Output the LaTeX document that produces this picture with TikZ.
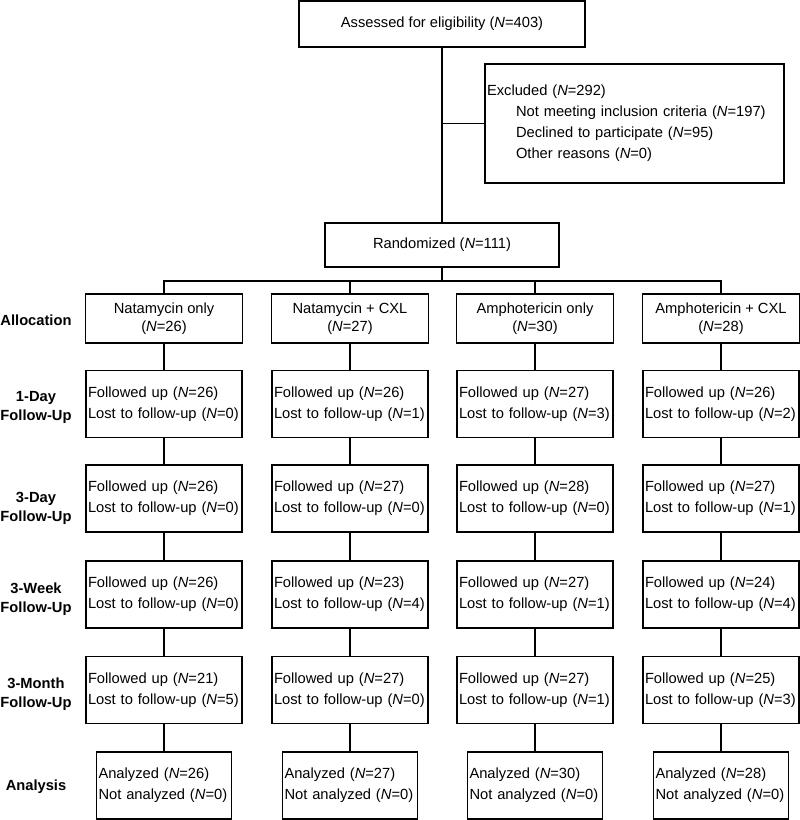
\documentclass[tikz,border=0pt]{standalone}
\usepackage{fontspec}
\setmainfont{Liberation Sans}
\usetikzlibrary{positioning}
\newcommand{\cnt}[1]{(\textit{N}=#1)}

\tikzset{
  box/.style={draw, line width=1.2pt, inner sep=0pt, font=\fontsize{14.7}{21}\selectfont},
  allocbox/.style={box, minimum width=157pt, minimum height=49pt, align=center, font=\fontsize{14.7}{18}\selectfont},
  fubox/.style={box, text width=152pt, inner xsep=2pt, minimum height=67pt, align=left},
  anabox/.style={box, text width=131pt, inner xsep=2pt, minimum height=67pt, align=left},
  stage/.style={inner sep=0pt, align=center, font=\fontsize{14.7}{19}\selectfont\bfseries}
}

\begin{document}
\begin{tikzpicture}[x=1pt, y=-1pt, line width=1.2pt]
\useasboundingbox (0,0) rectangle (800,820);
\node[box, minimum width=286pt, minimum height=46pt] (assess) at (442,24) {Assessed for eligibility \cnt{403}};
\node[box, text width=295pt, inner xsep=2pt, minimum height=119pt, align=left] (excl) at (634.5,123.5)
  {Excluded \cnt{292}\\
   \hspace*{29pt}Not meeting inclusion criteria \cnt{197}\\
   \hspace*{29pt}Declined to participate \cnt{95}\\
   \hspace*{29pt}Other reasons \cnt{0}};
\node[box, minimum width=234pt, minimum height=44pt] (rand) at (442,245) {Randomized \cnt{111}};
\coordinate (split) at (442,281);

% treatment arms
\foreach \i/\x/\arm/\n in {1/164/Natamycin only/26, 2/350/Natamycin + CXL/27,
                           3/535/Amphotericin only/30, 4/721/Amphotericin + CXL/28}
    \node[allocbox] (alloc-\i) at (\x,318.5) {\arm\\\cnt{\n}};

\foreach \r/\y in {1/404, 2/498.5, 3/594.5, 4/690, 5/785.5}
    \coordinate (row-\r) at (0,\y);

% follow-up visits
\foreach \r/\i/\f/\l in {1/1/26/0, 1/2/26/1, 1/3/27/3, 1/4/26/2,
                         2/1/26/0, 2/2/27/0, 2/3/28/0, 2/4/27/1,
                         3/1/26/0, 3/2/23/4, 3/3/27/1, 3/4/24/4,
                         4/1/21/5, 4/2/27/0, 4/3/27/1, 4/4/25/3}
    \node[fubox] (fu-\r-\i) at (alloc-\i |- row-\r) {Followed up \cnt{\f}\\Lost to follow-up \cnt{\l}};

\foreach \i/\a in {1/26, 2/27, 3/30, 4/28}
    \node[anabox] (ana-\i) at (alloc-\i |- row-5) {Analyzed \cnt{\a}\\Not analyzed \cnt{0}};

% stage labels
\foreach \s/\y/\txt in {alloc/320/Allocation, day1/407/{1-Day\\Follow-Up}, day3/508/{3-Day\\Follow-Up},
                        week3/599/{3-Week\\Follow-Up}, month3/694/{3-Month\\Follow-Up}, analysis/787/Analysis}
    \node[stage] (lab-\s) at (36,\y) {\txt};

% connectors
\draw (assess) -- (rand);
\draw (assess.south |- excl.west) -- (excl);
\draw (rand) -- (split);
\draw (alloc-1.north) |- (split) -| (alloc-4.north);
\foreach \i in {2,3}
    \draw (alloc-\i) -- (alloc-\i.north |- split);
\foreach \i in {1,...,4} {
    \draw (alloc-\i) -- (fu-1-\i);
    \draw (fu-1-\i) -- (fu-2-\i);
    \draw (fu-2-\i) -- (fu-3-\i);
    \draw (fu-3-\i) -- (fu-4-\i);
    \draw (fu-4-\i) -- (ana-\i);
}
\end{tikzpicture}
\end{document}
